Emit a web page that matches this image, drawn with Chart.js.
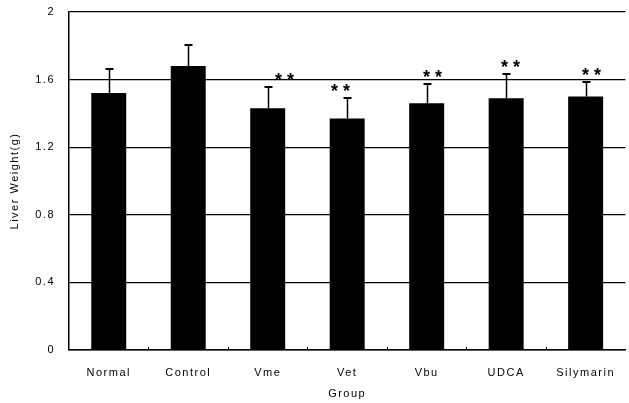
<!DOCTYPE html>
<html>
<head>
<meta charset="utf-8">
<script src="https://cdn.jsdelivr.net/npm/chart.js@4/dist/chart.umd.min.js"></script>
<style>
  html, body { margin: 0; padding: 0; background: #fff; overflow: hidden; }
  #wrap { width: 631px; height: 403px; }
</style>
</head>
<body>
<div id="wrap"><canvas id="c" width="631" height="403"></canvas></div>
<script>
// Liver weight (g) per treatment group, mean and standard deviation
const groups = ['Normal', 'Control', 'Vme', 'Vet', 'Vbu', 'UDCA', 'Silymarin'];
const liverWeight = [1.52, 1.68, 1.43, 1.37, 1.46, 1.49, 1.50];
const liverWeightSD = [0.15, 0.13, 0.13, 0.13, 0.12, 0.15, 0.09];
const significance = ['', '', '**', '**', '**', '**', '**'];
const yTickLabels = ['0', '0.4', '0.8', '1.2', '1.6', '2'];

const FONT = "'Liberation Sans', Arial, sans-serif";

// Wider tracking for all canvas text
const tracking = {
  id: 'tracking',
  beforeLayout(chart) { chart.ctx.letterSpacing = '1.5px'; },
  beforeDraw(chart) { chart.ctx.letterSpacing = '1.5px'; }
};

// Upper error whiskers, significance marks and inner category tick marks
const annotations = {
  id: 'annotations',
  afterDatasetsDraw(chart, args, opts) {
    const ctx = chart.ctx;
    const x = chart.scales.x, y = chart.scales.y;
    ctx.save();
    ctx.strokeStyle = '#000';
    ctx.fillStyle = '#000';
    liverWeight.forEach((v, i) => {
      const cx = Math.round(x.getPixelForValue(i)) + 0.5;
      const yTop = y.getPixelForValue(v);
      const yCap = Math.round(y.getPixelForValue(v + liverWeightSD[i]));
      ctx.lineWidth = 1.5;
      ctx.beginPath();
      ctx.moveTo(cx, yTop);
      ctx.lineTo(cx, yCap);
      ctx.stroke();
      ctx.lineWidth = 2;
      ctx.beginPath();
      ctx.moveTo(cx - 4, yCap + 1);
      ctx.lineTo(cx + 4, yCap + 1);
      ctx.stroke();
      const mark = significance[i];
      if (mark) {
        const sx = cx + (opts.starNudge[i] || 0);
        const sy = yCap - 10;
        ctx.letterSpacing = '0px';
        ctx.font = 'bold 18px ' + FONT;
        ctx.textAlign = 'center';
        ctx.textBaseline = 'alphabetic';
        ctx.fillText('*', sx - 6, sy + 10);
        ctx.fillText('*', sx + 6, sy + 10);
      }
    });
    // small tick marks pointing up between categories
    ctx.lineWidth = 1;
    const base = Math.round(y.getPixelForValue(0));
    for (let i = 1; i < groups.length; i++) {
      const bx = Math.round((x.getPixelForValue(i - 1) + x.getPixelForValue(i)) / 2) + 0.5;
      ctx.beginPath();
      ctx.moveTo(bx, base);
      ctx.lineTo(bx, base - 3);
      ctx.stroke();
    }
    ctx.restore();
  }
};

new Chart(document.getElementById('c'), {
  type: 'bar',
  data: {
    labels: groups,
    datasets: [{
      data: liverWeight,
      backgroundColor: '#000',
      borderWidth: 0,
      categoryPercentage: 1,
      barPercentage: 0.44
    }]
  },
  options: {
    responsive: false,
    animation: false,
    devicePixelRatio: 1,
    layout: { padding: { top: 12, left: 0, right: 0, bottom: 0 } },
    plugins: {
      legend: { display: false },
      tooltip: { enabled: false },
      annotations: { starNudge: [0, 0, 16, -7, 5, 4, 5] }
    },
    scales: {
      x: {
        afterFit(s) { s.height = 53; },
        grid: { drawOnChartArea: false, drawTicks: false },
        border: { display: true, color: '#000', width: 1.5 },
        ticks: { color: '#000', padding: 16, font: { family: FONT, size: 11 } },
        title: {
          display: true, text: 'Group', color: '#000',
          font: { family: FONT, size: 11 }, padding: { top: 0, bottom: 2 }
        }
      },
      y: {
        min: 0, max: 2,
        afterFit(s) { s.width = 69; s.paddingTop = 7; s.paddingBottom = 7; },
        grid: { color: '#000', lineWidth: 1.2, drawTicks: false },
        border: { display: true, color: '#000', width: 1.5 },
        ticks: {
          stepSize: 0.4, color: '#000', padding: 14,
          font: { family: FONT, size: 11 },
          callback: (v, i) => yTickLabels[i]
        },
        title: {
          display: true, text: 'Liver Weight(g)', color: '#000',
          font: { family: FONT, size: 11 }, padding: { top: 8, bottom: 0 }
        }
      }
    }
  },
  plugins: [tracking, annotations]
});
</script>
</body>
</html>
